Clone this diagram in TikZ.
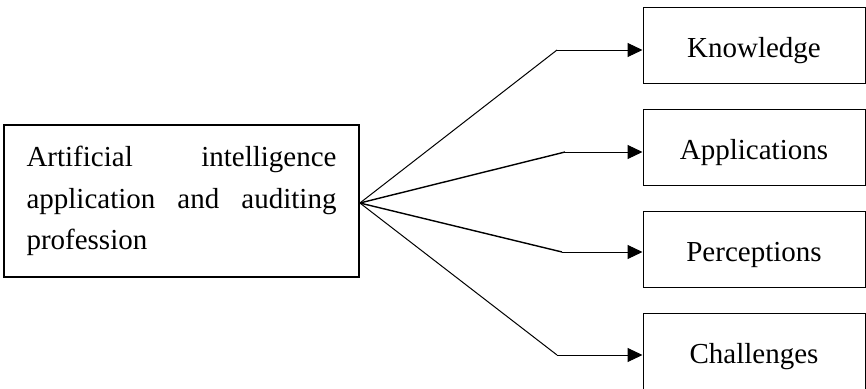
\documentclass[tikz,border=0pt]{standalone}
\usepackage{fontspec}
\setmainfont{Liberation Serif}
\usetikzlibrary{arrows.meta}
\begin{document}
\begin{tikzpicture}[x=1pt,y=-1pt,
  srcbox/.style={draw,line width=1.8pt,minimum width=355pt,minimum height=152pt,inner sep=0pt},
  tgtbox/.style={draw,line width=1pt,minimum width=222pt,minimum height=76pt,inner sep=0pt,
    text height=24pt,text depth=0pt,font=\fontsize{29}{35}\selectfont},
  conn/.style={line width=1pt},
  tip/.style={-{Triangle[length=15pt,width=14pt]}}]
\useasboundingbox (0,0) rectangle (866,388);
\node[srcbox] (src) at (181.5,201) {\parbox{310pt}{\fontsize{29}{41.5}\selectfont
  Artificial\hfill intelligence\\
  application\hfill and\hfill auditing\\
  profession}};
\node[tgtbox] (k) at (754,45) {Knowledge};
\node[tgtbox] (a) at (754,147.5) {Applications};
\node[tgtbox] (p) at (754,249.5) {Perceptions};
\node[tgtbox] (c) at (754,351) {Challenges};
\coordinate (o) at ([yshift=-2pt]src.east);
\coordinate (e1) at (557,50);
\coordinate (e2) at (565,152);
\coordinate (e3) at (562,252);
\coordinate (e4) at (557,355);
\draw[conn] (o) -- (e1);
\draw[conn,line width=1.4pt] (o) -- (e2);
\draw[conn,line width=1.4pt] (o) -- (e3);
\draw[conn] (o) -- (e4);
\draw[conn,tip] (e1) -- (e1 -| k.west);
\draw[conn,tip] (e2) -- (e2 -| a.west);
\draw[conn,tip] (e3) -- (e3 -| p.west);
\draw[conn,tip] (e4) -- (e4 -| c.west);
\end{tikzpicture}
\end{document}
